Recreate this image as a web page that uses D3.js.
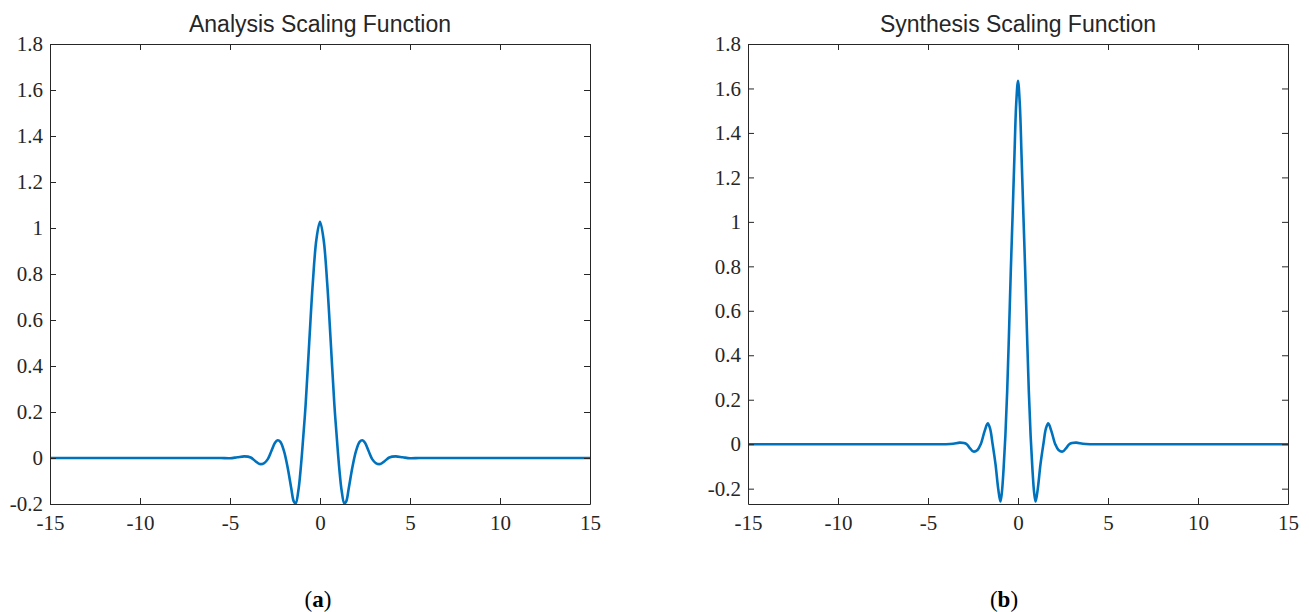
<!DOCTYPE html>
<html>
<head>
<meta charset="utf-8">
<script src="https://cdn.jsdelivr.net/npm/d3@7"></script>
<style>
  body { margin: 0; background: #fff; }
  .tick text { font-family: "Liberation Serif", serif; font-size: 21px; fill: #262626; }
  .domain, .tick line { stroke: #262626; }
</style>
</head>
<body>
<svg id="chart" width="1309" height="612"></svg>
<script>
var analysisX = [-15, -12, -9, -7, -6, -5.5, -5.0, -4.6, -4.2, -3.85, -3.6, -3.35, -3.1, -2.9, -2.7, -2.5, -2.35, -2.2, -2.0, -1.8, -1.6, -1.45, -1.35, -1.2, -1.1, -1.0, -0.8, -0.6, -0.4, -0.2,
                 0, 0.2, 0.4, 0.6, 0.8, 1.0, 1.1, 1.2, 1.35, 1.45, 1.6, 1.8, 2.0, 2.2, 2.35, 2.5, 2.7, 2.9, 3.1, 3.35, 3.6, 3.85, 4.2, 4.6, 5.0, 5.5, 6, 7, 9, 12, 15];
var analysisY = [0, 0, 0, 0, 0, 0, -0.001, 0.003, 0.007, 0.002, -0.013, -0.026, -0.022, -0.005, 0.03, 0.066, 0.077, 0.07, 0.03, -0.04, -0.13, -0.19, -0.197, -0.14, -0.07, 0.02, 0.23, 0.5, 0.76, 0.95,
                 1.027, 0.95, 0.76, 0.5, 0.23, 0.02, -0.07, -0.14, -0.197, -0.19, -0.13, -0.04, 0.03, 0.07, 0.077, 0.066, 0.03, -0.005, -0.022, -0.026, -0.013, 0.002, 0.007, 0.003, -0.001, 0, 0, 0, 0, 0, 0];

var synthesisX = [-15, -12, -9, -6, -5, -4.0, -3.6, -3.24, -3.0, -2.85, -2.7, -2.48, -2.25, -2.07, -1.85, -1.68, -1.55, -1.41, -1.25, -1.1, -0.98, -0.9, -0.8, -0.7, -0.6, -0.5, -0.4, -0.3, -0.2, -0.1,
                  0, 0.1, 0.2, 0.3, 0.4, 0.5, 0.6, 0.7, 0.8, 0.9, 0.98, 1.1, 1.25, 1.41, 1.55, 1.68, 1.85, 2.07, 2.25, 2.48, 2.7, 2.85, 3.0, 3.24, 3.6, 4.0, 5, 6, 9, 12, 15];
var synthesisY = [0, 0, 0, 0, 0, 0, 0.002, 0.007, 0.005, 0, -0.015, -0.033, -0.026, 0, 0.06, 0.094, 0.07, 0, -0.09, -0.2, -0.258, -0.22, -0.11, 0.04, 0.24, 0.5, 0.78, 1.03, 1.29, 1.53,
                  1.635, 1.53, 1.29, 1.03, 0.78, 0.5, 0.24, 0.04, -0.11, -0.22, -0.258, -0.2, -0.09, 0, 0.07, 0.094, 0.06, 0, -0.026, -0.033, -0.015, 0, 0.005, 0.007, 0.002, 0, 0, 0, 0, 0, 0];

var xTicks = [-15, -10, -5, 0, 5, 10, 15];
var leftYTicks = [-0.2, 0, 0.2, 0.4, 0.6, 0.8, 1, 1.2, 1.4, 1.6, 1.8];
var rightYTicks = [-0.2, 0, 0.2, 0.4, 0.6, 0.8, 1, 1.2, 1.4, 1.6, 1.8];

var svg = d3.select("#chart");

function drawPanel(opt) {
    var w = opt.width, h = opt.height;
    var g = svg.append("g")
        .attr("transform", "translate(" + opt.left + "," + opt.top + ")");

    var x = d3.scaleLinear().domain([-15, 15]).range([0, w]);
    var y = d3.scaleLinear().domain(opt.yDomain).range([h, 0]);
    var fmt = function(d) { return String(d); };

    g.append("clipPath").attr("id", opt.id + "-clip")
        .append("rect").attr("width", w).attr("height", h);

    // line first, axes on top
    var pts = opt.xs.map(function(v, i) { return [v, opt.ys[i]]; });
    var line = d3.line()
        .x(function(d) { return x(d[0]); })
        .y(function(d) { return y(d[1]); })
        .curve(d3.curveCatmullRom.alpha(0.5));
    g.append("path")
        .datum(pts)
        .attr("clip-path", "url(#" + opt.id + "-clip)")
        .attr("fill", "none")
        .attr("stroke", "#0072BD")
        .attr("stroke-width", 2.6)
        .attr("stroke-linejoin", "round")
        .attr("d", line);

    // box axes, ticks pointing in
    g.append("g").attr("transform", "translate(0," + h + ")")
        .call(d3.axisBottom(x).tickValues(xTicks).tickFormat(fmt).tickSizeInner(-6).tickSizeOuter(0).tickPadding(11));
    g.append("g")
        .call(d3.axisTop(x).tickValues(xTicks).tickFormat("").tickSizeInner(-6).tickSizeOuter(0));
    g.append("g")
        .call(d3.axisLeft(y).tickValues(opt.yTicks).tickFormat(fmt).tickSizeInner(-6).tickSizeOuter(0).tickPadding(7));
    g.append("g").attr("transform", "translate(" + w + ",0)")
        .call(d3.axisRight(y).tickValues(opt.yTicks).tickFormat("").tickSizeInner(-6).tickSizeOuter(0));

    g.selectAll(".domain").attr("stroke-width", 1);

    g.append("text")
        .attr("x", w / 2).attr("y", -12)
        .attr("text-anchor", "middle")
        .style("font-family", "Liberation Sans, Arial, sans-serif")
        .style("font-size", "23px")
        .style("fill", "#262626")
        .text(opt.title);

    var cap = svg.append("text")
        .attr("x", opt.capX).attr("y", 607)
        .attr("text-anchor", "middle")
        .style("font-family", "Liberation Serif, serif")
        .style("font-size", "23px")
        .style("fill", "#000");
    cap.append("tspan").text("(");
    cap.append("tspan").style("font-weight", "bold").text(opt.cap);
    cap.append("tspan").text(")");
}

drawPanel({
    id: "left", left: 50, top: 44, width: 540, height: 460,
    yDomain: [-0.2, 1.8], yTicks: leftYTicks,
    xs: analysisX, ys: analysisY,
    title: "Analysis Scaling Function", cap: "a", capX: 318
});

drawPanel({
    id: "right", left: 748, top: 44, width: 540, height: 460,
    yDomain: [-0.269, 1.8], yTicks: rightYTicks,
    xs: synthesisX, ys: synthesisY,
    title: "Synthesis Scaling Function", cap: "b", capX: 1004
});
</script>
</body>
</html>
